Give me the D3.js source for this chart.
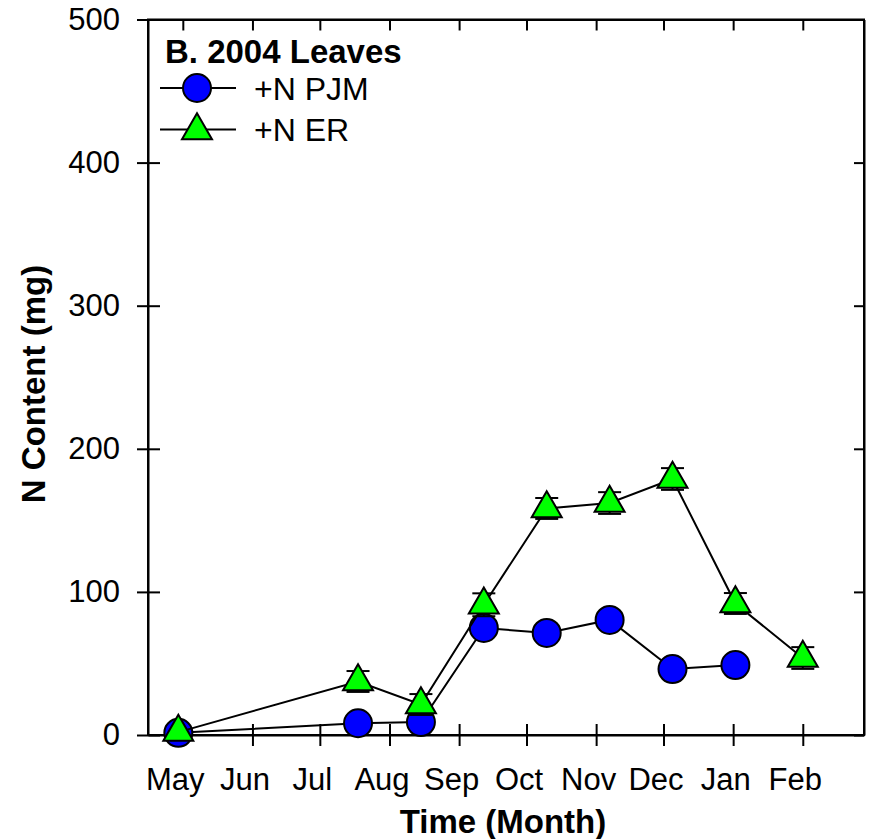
<!DOCTYPE html>
<html>
<head>
<meta charset="utf-8">
<script src="https://cdnjs.cloudflare.com/ajax/libs/d3/7.8.5/d3.min.js"></script>
<style>
	body { margin: 0; background: #fff; }
	text { font-family: 'Liberation Sans', Arial, sans-serif; }
</style>
</head>
<body>
<div id="vis"></div>
<script>
// sampling dates (2004 - 2005)
var dates = ['2004-04-29', '2004-07-18', '2004-08-15', '2004-09-12', '2004-10-10',
	'2004-11-07', '2004-12-05', '2005-01-02', '2005-02-01'];

// +N PJM (circles), no Feb sample
var pjmValues = [1.5, 8.2, 9, 74.8, 71.3, 80.4, 46.1, 48.9, null];

// +N ER (triangles) with standard errors
var erValues = [2, 37.4, 21.3, 91, 158.3, 162.1, 178.9, 91.9, 53.8];
var erErrors = [0, 7.3, 7.3, 8, 7.3, 7.6, 7.6, 7.3, 7.6];

var yTicks = [0, 100, 200, 300, 400, 500];

var parseDate = d3.utcParse('%Y-%m-%d');

buildChart();

// Builds the whole chart
function buildChart() {
	var width = 870, height = 839;
	var margin = {top: 19.5, right: 6, bottom: 104, left: 148};

	var svg = d3.select('#vis')
		.append('svg')
		.attr('width', width)
		.attr('height', height);

	var x = d3.scaleUtc()
		.domain([new Date(Date.UTC(2004, 3, 15, 12)), new Date(Date.UTC(2005, 1, 28, 6))])
		.range([margin.left, width - margin.right]);

	var y = d3.scaleLinear()
		.domain([0, 500])
		.range([height - margin.bottom, margin.top]);

	drawAxes(svg, x, y);
	drawSeries(svg, x, y);
	drawLegend(svg);
}

// Draws the frame, ticks and axis labels
function drawAxes(svg, x, y) {
	var x0 = x.range()[0], x1 = x.range()[1];
	var y0 = y.range()[0], y1 = y.range()[1];
	var months = x.ticks(d3.utcMonth.every(1));

	// bottom axis: ticks cross the line
	var bottom = svg.append('g')
		.attr('transform', 'translate(0,' + y0 + ')')
		.call(d3.axisBottom(x).tickValues(months).tickFormat(d3.utcFormat('%b'))
			.tickSizeInner(11).tickSizeOuter(0).tickPadding(22));
	bottom.selectAll('.tick line').attr('y1', -11);
	bottom.selectAll('.tick text').attr('dx', -8);

	// top axis: inward ticks only
	svg.append('g')
		.attr('transform', 'translate(0,' + y1 + ')')
		.call(d3.axisTop(x).tickValues(months).tickFormat('')
			.tickSizeInner(-11).tickSizeOuter(0));

	// left axis: ticks cross the line
	var left = svg.append('g')
		.attr('transform', 'translate(' + x0 + ',0)')
		.call(d3.axisLeft(y).tickValues(yTicks).tickSizeInner(11).tickSizeOuter(0).tickPadding(17));
	left.selectAll('.tick line').attr('x1', 12);

	// right axis: inward ticks only
	svg.append('g')
		.attr('transform', 'translate(' + x1 + ',0)')
		.call(d3.axisRight(y).tickValues(yTicks).tickFormat('')
			.tickSizeInner(-10).tickSizeOuter(0));

	svg.selectAll('.domain').attr('stroke', '#000').attr('stroke-width', 2);
	svg.selectAll('.tick line').attr('stroke', '#000').attr('stroke-width', 2);
	svg.selectAll('.tick text')
		.attr('fill', '#000')
		.style('font-size', '31px')
		.style('font-family', "'Liberation Sans', Arial, sans-serif");

	// frame
	svg.append('rect')
		.attr('x', x0)
		.attr('y', y1)
		.attr('width', x1 - x0)
		.attr('height', y0 - y1)
		.attr('fill', 'none')
		.attr('stroke', '#000')
		.attr('stroke-width', 2);

	svg.append('text')
		.attr('x', (x0 + x1) / 2 - 3)
		.attr('y', 833)
		.attr('text-anchor', 'middle')
		.style('font-size', '33px')
		.style('font-weight', 'bold')
		.text('Time (Month)');

	svg.append('text')
		.attr('transform', 'translate(45,384) rotate(-90)')
		.attr('text-anchor', 'middle')
		.style('font-size', '33px')
		.style('font-weight', 'bold')
		.text('N Content (mg)');
}

// Draws lines, error bars and markers for both treatments
function drawSeries(svg, x, y) {
	var pjm = dates.map(function(d, i) {
		return {date: parseDate(d), value: pjmValues[i]};
	}).filter(function(d) { return d.value !== null; });

	var er = dates.map(function(d, i) {
		return {date: parseDate(d), value: erValues[i], err: erErrors[i]};
	});

	var line = d3.line()
		.x(function(d) { return x(d.date); })
		.y(function(d) { return y(d.value); });

	// +N PJM
	svg.append('path')
		.datum(pjm)
		.attr('d', line)
		.attr('fill', 'none')
		.attr('stroke', '#000')
		.attr('stroke-width', 2);

	svg.append('g')
		.selectAll('circle')
		.data(pjm)
		.enter()
		.append('circle')
		.attr('cx', function(d) { return x(d.date); })
		.attr('cy', function(d) { return y(d.value); })
		.attr('r', 14)
		.attr('fill', '#0000ff')
		.attr('stroke', '#000')
		.attr('stroke-width', 2);

	// +N ER
	svg.append('path')
		.datum(er)
		.attr('d', line)
		.attr('fill', 'none')
		.attr('stroke', '#000')
		.attr('stroke-width', 2);

	var bars = svg.append('g')
		.selectAll('g')
		.data(er.filter(function(d) { return d.err > 0; }))
		.enter()
		.append('g')
		.attr('stroke', '#000')
		.attr('stroke-width', 2);

	bars.append('line')
		.attr('x1', function(d) { return x(d.date); })
		.attr('x2', function(d) { return x(d.date); })
		.attr('y1', function(d) { return y(d.value + d.err); })
		.attr('y2', function(d) { return y(d.value - d.err); });

	[1, -1].forEach(function(sign) {
		bars.append('line')
			.attr('x1', function(d) { return x(d.date) - 11.5; })
			.attr('x2', function(d) { return x(d.date) + 11.5; })
			.attr('y1', function(d) { return y(d.value + sign * d.err); })
			.attr('y2', function(d) { return y(d.value + sign * d.err); });
	});

	svg.append('g')
		.selectAll('path')
		.data(er)
		.enter()
		.append('path')
		.attr('d', trianglePath(30))
		.attr('transform', function(d) {
			return 'translate(' + x(d.date) + ',' + y(d.value) + ')';
		})
		.attr('fill', '#00ff00')
		.attr('stroke', '#000')
		.attr('stroke-width', 2);
}

// Equilateral triangle centred on its centroid
function trianglePath(side) {
	var h = side * Math.sqrt(3) / 2;
	return 'M0,' + (-2 * h / 3) + 'L' + (side / 2) + ',' + (h / 3) +
		'L' + (-side / 2) + ',' + (h / 3) + 'Z';
}

// Draws the panel title and the legend
function drawLegend(svg) {
	svg.append('text')
		.attr('x', 165)
		.attr('y', 63)
		.style('font-size', '33px')
		.style('font-weight', 'bold')
		.text('B. 2004 Leaves');

	var rows = [
		{name: '+N PJM', y: 88, type: 'circle'},
		{name: '+N ER', y: 129.5, type: 'triangle'}
	];

	rows.forEach(function(r) {
		svg.append('line')
			.attr('x1', 160)
			.attr('x2', 236)
			.attr('y1', r.y)
			.attr('y2', r.y)
			.attr('stroke', '#000')
			.attr('stroke-width', 2);

		if (r.type === 'circle') {
			svg.append('circle')
				.attr('cx', 197)
				.attr('cy', r.y)
				.attr('r', 14)
				.attr('fill', '#0000ff')
				.attr('stroke', '#000')
				.attr('stroke-width', 2);
		} else {
			svg.append('path')
				.attr('d', trianglePath(30))
				.attr('transform', 'translate(197,' + (r.y + 1) + ')')
				.attr('fill', '#00ff00')
				.attr('stroke', '#000')
				.attr('stroke-width', 2);
		}

		svg.append('text')
			.attr('x', 254)
			.attr('y', r.y + 11.5)
			.style('font-size', '32px')
			.text(r.name);
	});
}
</script>
</body>
</html>
